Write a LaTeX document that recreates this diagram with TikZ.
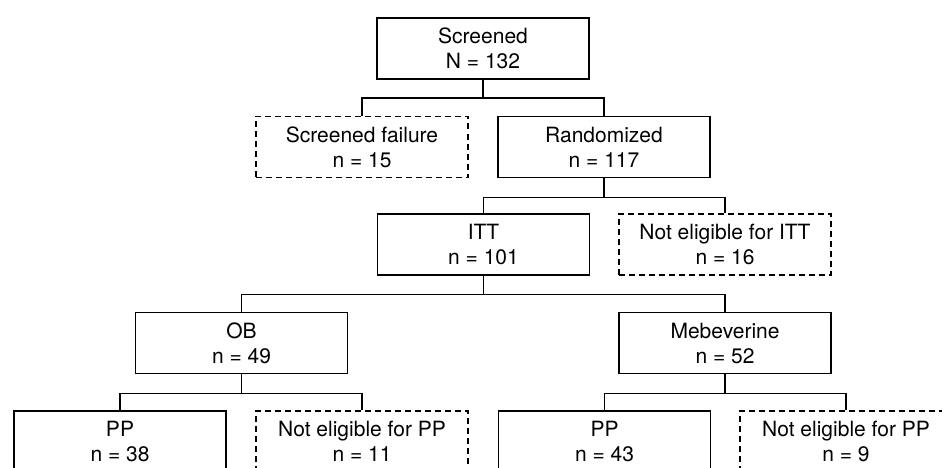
\documentclass[tikz,border=0pt]{standalone}
\usepackage{fontspec}
\setmainfont{TeX Gyre Heros}
\usepackage{tikz}
\usetikzlibrary{positioning}

\begin{document}
\begin{tikzpicture}[x=1pt,y=-1pt,
    solidbox/.style={draw,line width=1.2pt,minimum width=212pt,minimum height=61pt,
      align=center,inner sep=0pt,font=\fontsize{21}{25}\selectfont},
    dashbox/.style={solidbox,dash pattern=on 6pt off 4pt},
    link/.style={line width=1.2pt}]
    \useasboundingbox (0,0) rectangle (942,468);
    \clip (0,0) rectangle (942,468);

    \node[solidbox] (scr) at (483,48.5) {Screened\\N = 132};
    \node[dashbox] (fail) at (362,147) {Screened failure\\n = 15};
    \node[solidbox] (rand) at (604,147) {Randomized\\n = 117};

    \node[solidbox] (itt) at (483.5,244.5) {ITT\\n = 101};
    \node[dashbox] (noitt) at (725,244.5) {Not eligible for ITT\\n = 16};

    \node[solidbox] (ob) at (241.5,343) {OB\\n = 49};
    \node[solidbox] (meb) at (725,343) {Mebeverine\\n = 52};

    \node[solidbox] (ppob) at (120,441.5) {PP\\n = 38};
    \node[dashbox] (noppob) at (362,441.5) {Not eligible for PP\\n = 11};
    \node[solidbox] (ppmeb) at (604.5,441.5) {PP\\n = 43};
    \node[dashbox] (noppmeb) at (846,441.5) {Not eligible for PP\\n = 9};

    \draw[link] (scr.south) -- ++(0,18.5) -| (fail.north);
    \draw[link] (scr.south) -- ++(0,18.5) -| (rand.north);
    \draw[link] (rand.south) -- ++(0,19) -| (itt.north);
    \draw[link] (rand.south) -- ++(0,19) -| (noitt.north);
    \draw[link] (itt.south) -- ++(0,19) -| (ob.north);
    \draw[link] (itt.south) -- ++(0,19) -| (meb.north);
    \draw[link] (ob.south) -- ++(0,19.5) -| (ppob.north);
    \draw[link] (ob.south) -- ++(0,19.5) -| (noppob.north);
    \draw[link] (meb.south) -- ++(0,19.5) -| (ppmeb.north);
    \draw[link] (meb.south) -- ++(0,19.5) -| (noppmeb.north);
\end{tikzpicture}
\end{document}
